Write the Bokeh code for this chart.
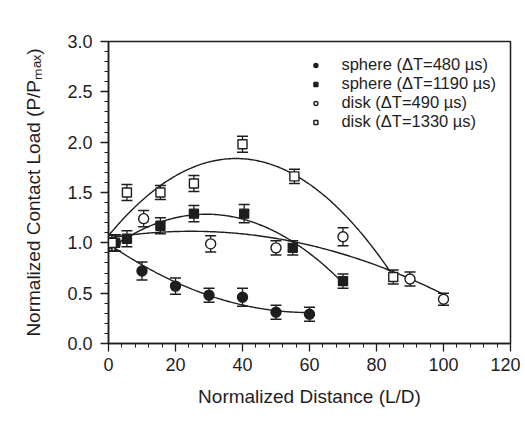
import numpy as np
from bokeh.plotting import figure
from bokeh.models import FixedTicker, PrintfTickFormatter, Legend, LegendItem
from bokeh.embed import file_html
from bokeh.resources import INLINE

# ---- data ----
s480_x = [2, 10, 20, 30, 40, 50, 60]
s480_y = [1.00, 0.72, 0.57, 0.48, 0.46, 0.31, 0.29]
s480_e = [0.08, 0.09, 0.08, 0.07, 0.09, 0.07, 0.07]

s1190_x = [2, 5.5, 15.5, 25.5, 40.5, 55, 70]
s1190_y = [1.00, 1.04, 1.17, 1.29, 1.29, 0.95, 0.62]
s1190_e = [0.08, 0.08, 0.08, 0.08, 0.09, 0.07, 0.07]

d490_x = [1, 10.5, 30.5, 50, 70, 90, 100]
d490_y = [1.00, 1.24, 0.99, 0.95, 1.06, 0.64, 0.44]
d490_e = [0.08, 0.08, 0.08, 0.07, 0.09, 0.07, 0.06]

d1330_x = [1, 5.5, 15.5, 25.5, 40, 55.5, 85]
d1330_y = [1.00, 1.50, 1.50, 1.59, 1.98, 1.66, 0.66]
d1330_e = [0.08, 0.08, 0.07, 0.08, 0.08, 0.07, 0.07]

labels = ["sphere (\u0394T=480 \u00b5s)", "sphere (\u0394T=1190 \u00b5s)",
          "disk (\u0394T=490 \u00b5s)", "disk (\u0394T=1330 \u00b5s)"]

x_ticks = [0, 20, 40, 60, 80, 100, 120]
y_ticks = [0.0, 0.5, 1.0, 1.5, 2.0, 2.5, 3.0]

INK = "#1e1e1e"
FONT = "Liberation Sans"

p = figure(width=520, height=418, x_range=(0, 120), y_range=(0, 3.0),
           output_backend="svg", toolbar_location=None,
           min_border_left=108, min_border_right=10,
           min_border_top=41, min_border_bottom=75)
p.grid.visible = False
p.outline_line_color = INK
p.outline_line_width = 1.5
p.background_fill_color = "white"
p.border_fill_color = "white"

p.xaxis.ticker = FixedTicker(ticks=x_ticks, minor_ticks=list(np.arange(0, 121, 4)))
p.yaxis.ticker = FixedTicker(ticks=y_ticks, minor_ticks=list(np.round(np.arange(0, 3.01, 0.1), 2)))
p.yaxis.formatter = PrintfTickFormatter(format="%.1f")
p.xaxis.axis_label = "Normalized Distance (L/D)"
p.yaxis.axis_label = "Normalized Contact Load (P/P\u2098\u2090\u2093)"
for ax in (p.xaxis, p.yaxis):
    ax.axis_line_color = INK
    ax.axis_line_width = 1.5
    ax.major_tick_line_color = INK
    ax.minor_tick_line_color = INK
    ax.major_tick_line_width = 1.3
    ax.minor_tick_line_width = 1.0
    ax.major_tick_out = 8
    ax.major_tick_in = 0
    ax.minor_tick_out = 4
    ax.minor_tick_in = 0
    ax.major_label_text_font = FONT
    ax.major_label_text_font_size = "18px"
    ax.major_label_text_color = INK
    ax.axis_label_text_font = FONT
    ax.axis_label_text_font_size = "19px"
    ax.axis_label_text_font_style = "normal"
    ax.axis_label_text_color = INK
p.yaxis.major_label_standoff = 8
p.xaxis.major_label_standoff = 6
p.yaxis.axis_label_standoff = 20
p.xaxis.axis_label_standoff = 12

series = [
    (s480_x, s480_y, s480_e, "circle", INK, 10),
    (s1190_x, s1190_y, s1190_e, "square", INK, 9),
    (d490_x, d490_y, d490_e, "circle", "white", 10),
    (d1330_x, d1330_y, d1330_e, "square", "white", 9),
]

items = []
for (xs, ys, es, mk, fill, sz), lab in zip(series, labels):
    xs = np.array(xs, float); ys = np.array(ys, float); es = np.array(es, float)
    # quadratic fit curve
    c = np.polyfit(xs, ys, 2)
    fx = np.linspace(0, xs.max(), 200)
    p.line(fx, np.polyval(c, fx), line_color=INK, line_width=1.4)
    # error bars
    p.segment(x0=xs, y0=ys - es, x1=xs, y1=ys + es, line_color=INK, line_width=1.3)
    p.scatter(np.concatenate([xs, xs]), np.concatenate([ys - es, ys + es]),
              marker="dash", size=11, line_color=INK, line_width=1.5)
    r = p.scatter(xs, ys, marker=mk, size=sz, fill_color=fill, line_color=INK, line_width=1.4)
    items.append(LegendItem(label=lab, renderers=[r]))

leg = Legend(items=items, location="top_right", border_line_color=None,
             background_fill_alpha=0, label_text_font=FONT, label_text_font_size="16.5px",
             label_text_color=INK, label_height=15, spacing=0, glyph_width=10, glyph_height=10,
             label_standoff=21, margin=14, padding=5)
p.add_layout(leg)

open("out.html", "w").write(file_html(p, INLINE))
